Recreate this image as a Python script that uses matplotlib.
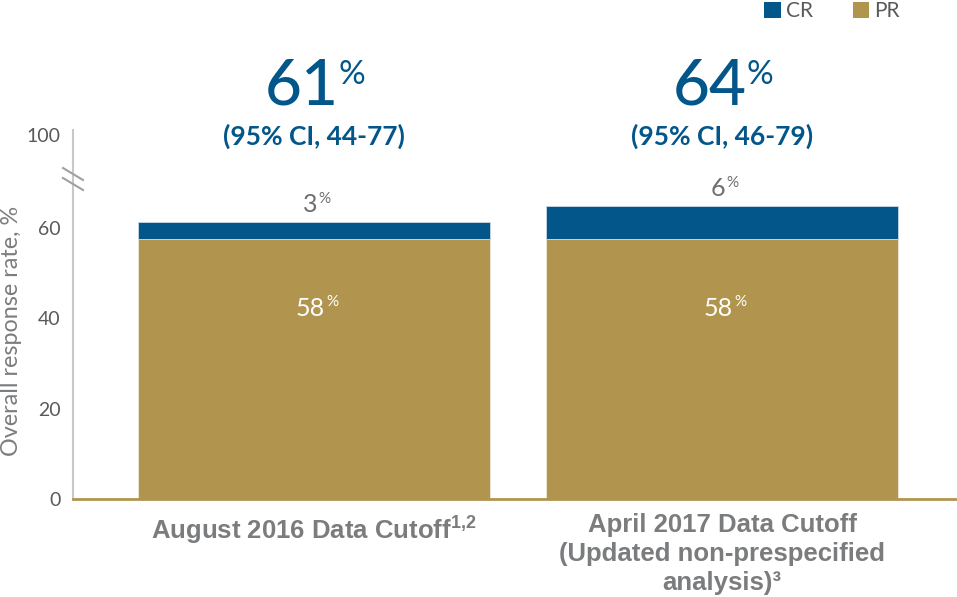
import numpy as np
import matplotlib
matplotlib.use("Agg")
import matplotlib.pyplot as plt
from matplotlib.patches import Patch
import matplotlib.transforms as mtransforms

# ---- data ----
categories = ["August 2016 Data Cutoff$^{\\mathbf{1{,}2}}$",
              "April 2017 Data Cutoff\n(Updated non-prespecified\nanalysis)³"]
pr_values = [57.6, 57.6]          # drawn height of PR segment
cr_values = [3.8, 7.3]            # drawn height of CR segment
pr_labels = ["58", "58"]
cr_labels = ["3", "6"]
total_labels = ["61", "64"]
ci_labels = ["(95% CI, 44-77)", "(95% CI, 46-79)"]
yticks = [0, 20, 40, 60, 100]
ytick_labels = ["0", "20", "40", "60", "100"]

BLUE = "#03568A"
GOLD = "#B1954F"
GRAY = "#6D6E71"
DARK = "#58595B"
LGRAY = "#7B7C7E"

plt.rcParams["mathtext.fontset"] = "custom"
plt.rcParams["mathtext.bf"] = "Liberation Sans:bold"
plt.rcParams["mathtext.rm"] = "Liberation Sans"

fig = plt.figure(figsize=(9.57, 5.97), dpi=100)
W, H = 957, 597
AW = W - 73
ax = fig.add_axes([73 / W, 1 - 499 / H, AW / W, (499 - 130) / H])

# broken scale: compress above 70
BRK, K = 70.0, 0.353
def fwd(y):
    y = np.asarray(y, dtype=float)
    return np.where(y <= BRK, y, BRK + (y - BRK) * K)
def inv(y):
    y = np.asarray(y, dtype=float)
    return np.where(y <= BRK, y, BRK + (y - BRK) / K)
ax.set_yscale("function", functions=(fwd, inv))

x = np.arange(len(categories))
width = 0.863
ax.bar(x, pr_values, width, color=GOLD, edgecolor="#efe9da", linewidth=0.6, zorder=2)
ax.bar(x, cr_values, width, bottom=pr_values, color=BLUE, edgecolor="#c9d9e6",
       linewidth=0.6, zorder=2)

ax.set_xlim(-0.591, 1.576)
ax.set_ylim(0, 103)
ax.set_yticks(yticks)
ax.set_yticklabels(ytick_labels, family="Lato", fontsize=14, color=DARK)
ax.tick_params(axis="y", length=0, pad=9)
ax.set_xticks(x)
ax.set_xticklabels(categories, family="Liberation Sans", fontweight="bold",
                   fontsize=18.5, color=LGRAY, linespacing=1.27)
ax.tick_params(axis="x", length=0, pad=10)
ax.minorticks_off()

for s in ["top", "right"]:
    ax.spines[s].set_visible(False)
ax.spines["left"].set_color("#C8C8C8")
ax.spines["left"].set_linewidth(1.5)
ax.spines["bottom"].set_color(GOLD)
ax.spines["bottom"].set_linewidth(2)
ax.spines["bottom"].set_zorder(3)

# break marks
dx = 10 / AW
for yc in [(499 - 174) / 369, (499 - 184) / 369]:
    dy = 6 / 369
    ax.plot([-dx, dx], [yc + dy, yc - dy], transform=ax.transAxes, color="#A0A0A0",
            lw=1.5, clip_on=False, zorder=4)

ax.set_ylabel("Overall response rate, %", family="Lato", fontsize=16.8, color=LGRAY)
ax.yaxis.set_label_coords((1 - 73) / AW, 0.455)
ax.yaxis.label.set_va("top")

blend = mtransforms.blended_transform_factory(ax.transData, ax.transAxes)

for i in range(len(categories)):
    # PR label inside
    t = ax.text(x[i] - 0.01, 42.2, pr_labels[i], ha="center", va="center",
                family="Lato", fontsize=18, color="white", zorder=5)
    ax.annotate("%", xy=(1, 1), xycoords=t, xytext=(1, 1), textcoords="offset points",
                ha="left", va="top", family="Lato", fontsize=11, color="white", zorder=5)
    # CR label above bar
    top = pr_values[i] + cr_values[i]
    t2 = ax.annotate(cr_labels[i], xy=(x[i] - 0.01, top), xytext=(0, 4),
                     textcoords="offset points", ha="center", va="bottom",
                     family="Lato", fontsize=18, color=GRAY)
    ax.annotate("%", xy=(1, 1), xycoords=t2, xytext=(1, 1), textcoords="offset points",
                ha="left", va="top", family="Lato", fontsize=11, color=GRAY)
    # totals
    t3 = ax.text(x[i] - 0.03, 1.04, total_labels[i], transform=blend, ha="center",
                 va="bottom", family="Lato", fontsize=46, fontweight="medium", color=BLUE)
    ax.annotate("%", xy=(1, 0.95), xycoords=t3, xytext=(0, 0), textcoords="offset points",
                ha="left", va="top", family="Lato", fontsize=24, color=BLUE)
    ax.text(x[i], 0.984, ci_labels[i], transform=blend, ha="center", va="center",
            family="Lato", fontsize=19, fontweight="bold", color=BLUE)

handles = [Patch(facecolor=BLUE, label="CR"), Patch(facecolor=GOLD, label="PR")]
leg = fig.legend(handles=handles, loc="upper right", bbox_to_anchor=(900 / W, 1 - 1 / H),
                 ncol=2, frameon=False, prop={"family": "Lato", "size": 15},
                 handlelength=0.8, handleheight=0.8, handletextpad=0.25,
                 columnspacing=1.9, borderaxespad=0, borderpad=0)
for txt in leg.get_texts():
    txt.set_color(DARK)

fig.savefig("out.png", dpi=100)
